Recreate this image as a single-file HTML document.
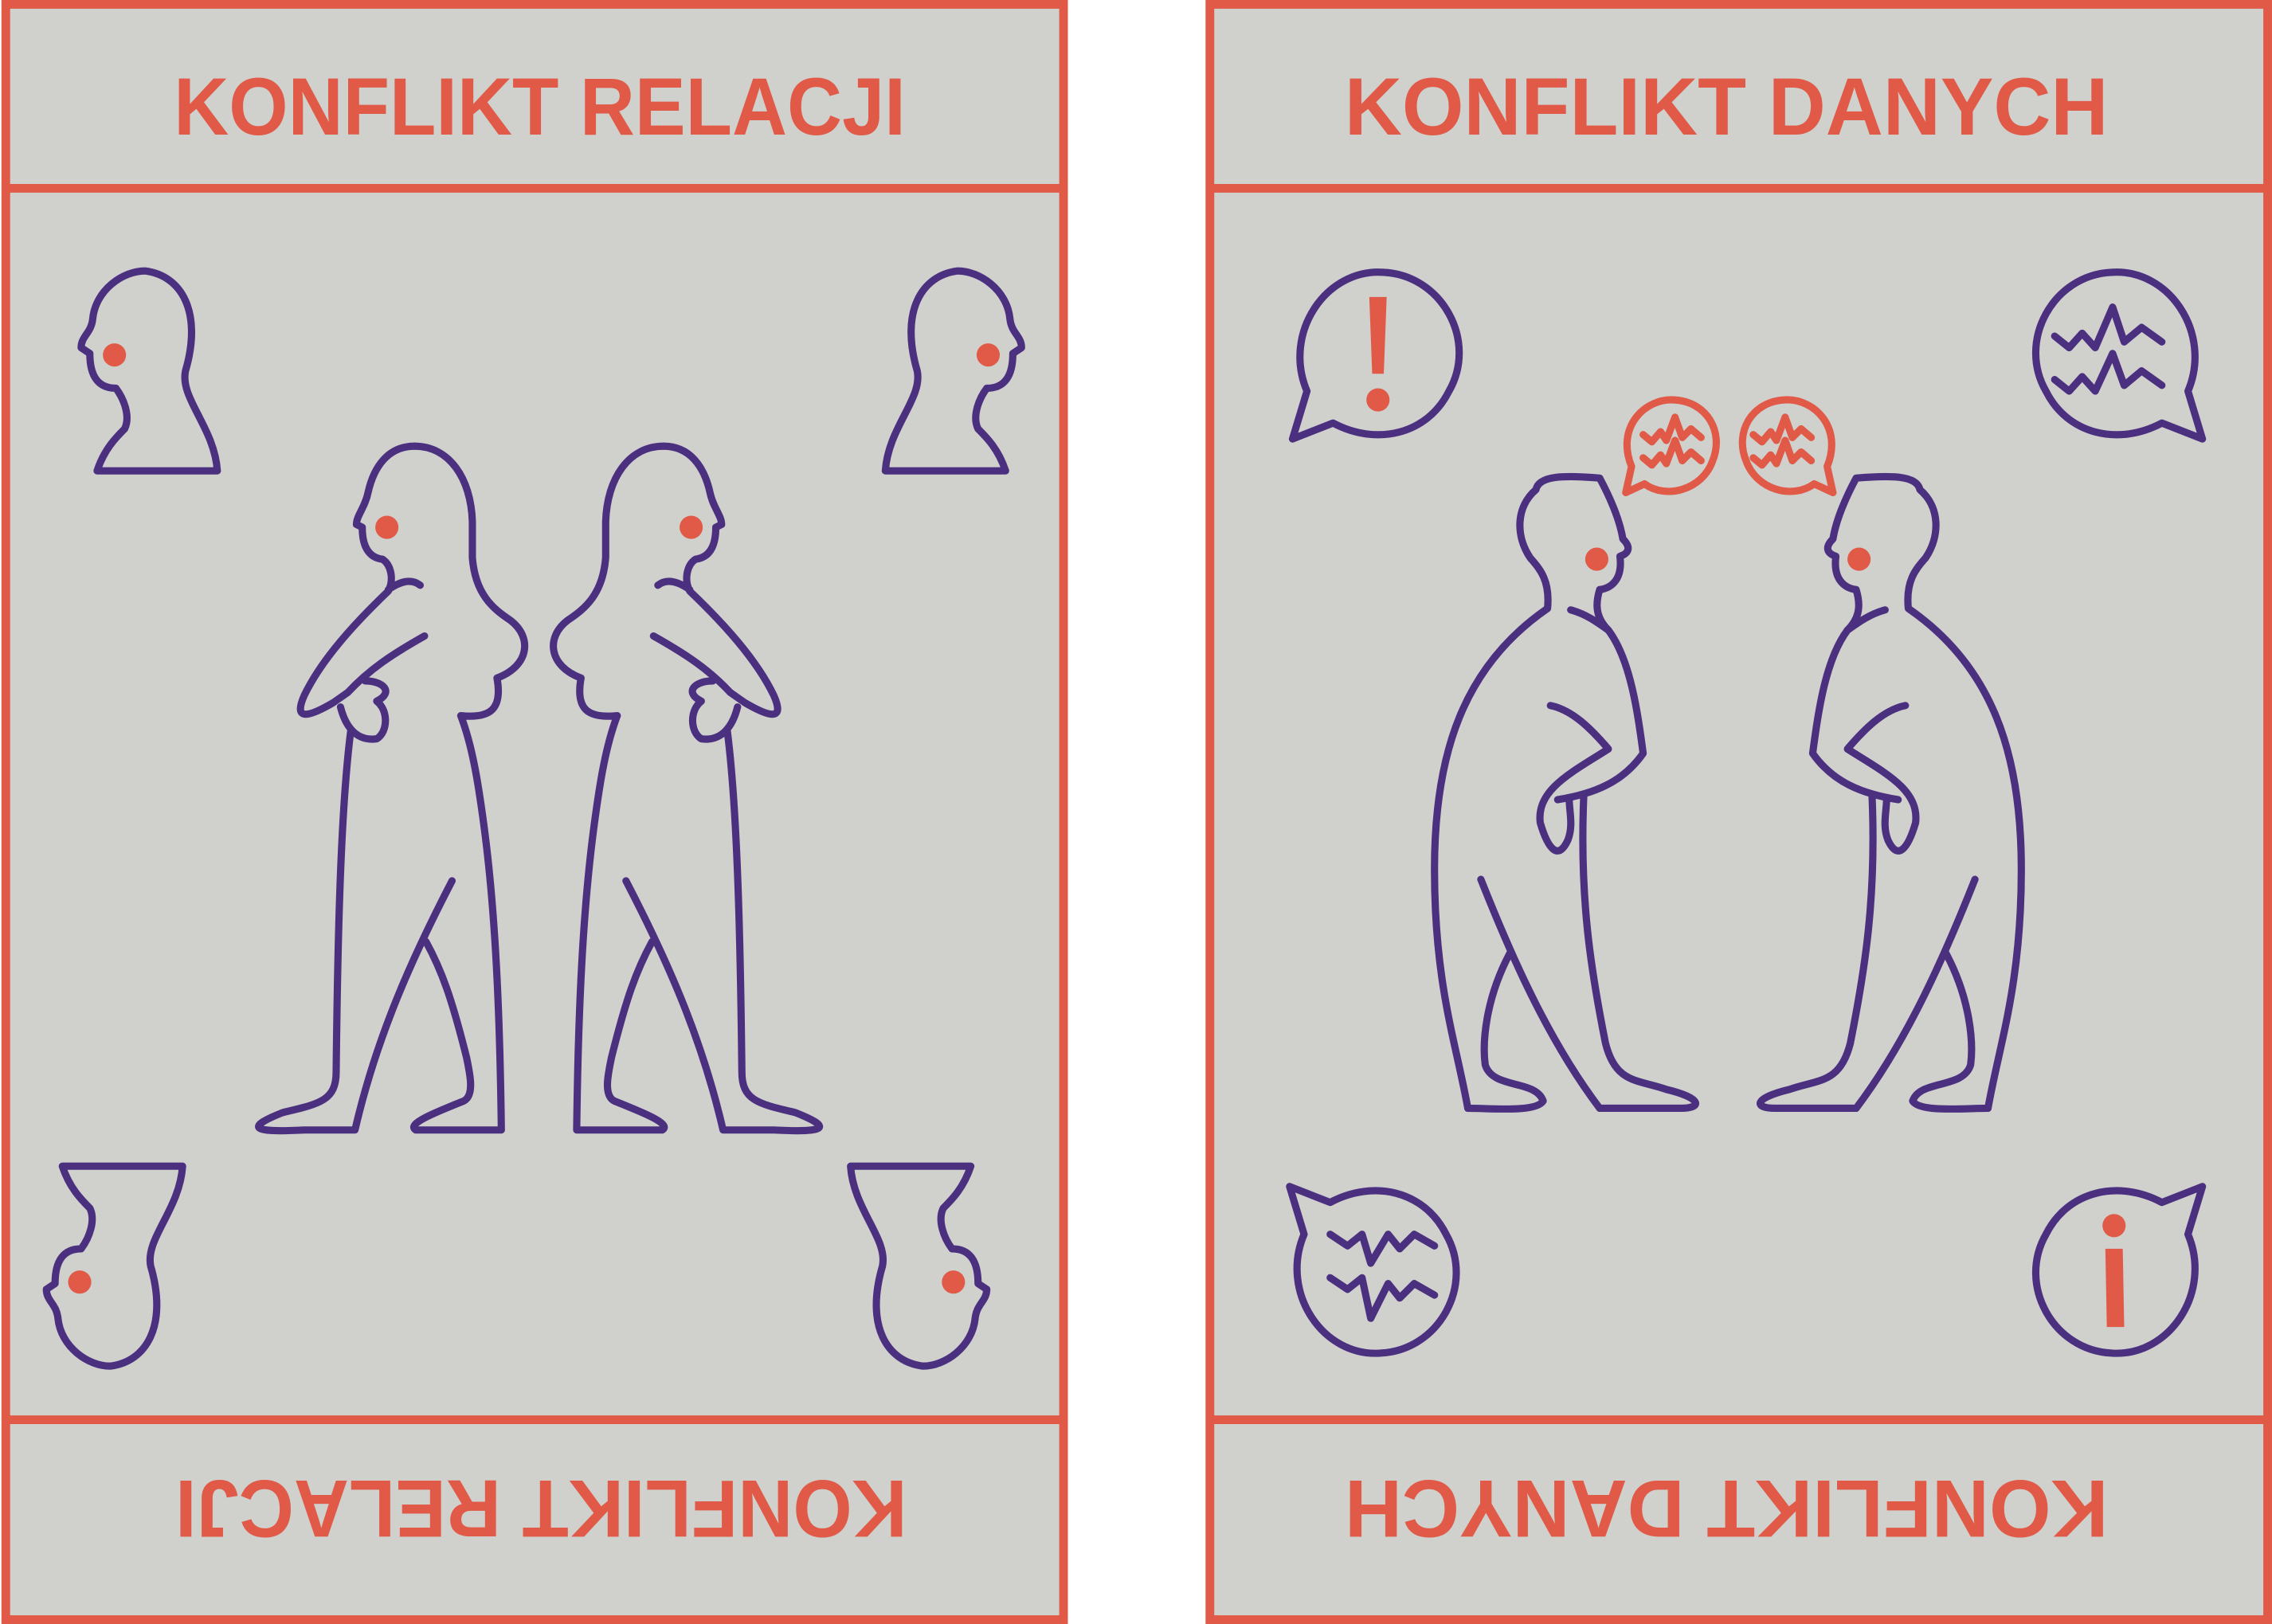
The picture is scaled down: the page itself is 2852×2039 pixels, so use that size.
<!DOCTYPE html>
<html><head><meta charset="utf-8">
<style>
html,body{margin:0;padding:0;background:#fff;}
svg{display:block;}
.t{font-family:"Liberation Sans",sans-serif;font-size:56px;font-weight:bold;fill:#e05a47;}
.p{fill:none;stroke:#4b3080;stroke-width:5;stroke-linecap:round;stroke-linejoin:round;}
.r{fill:none;stroke:#e05a47;stroke-width:5;stroke-linecap:round;stroke-linejoin:round;}
</style></head>
<body>
<svg width="2852" height="2039" viewBox="0 0 1568 1121">
<defs>
<g id="head">
<path class="p" d="M67 325 C72 310 80 302 86 296 C90 288 86 276 80 268 C68 268 62 260 62 244 L56 240 C56 232 63 230 64 220 C66 200 85 187 100 187 C125 190 140 215 128 256 C124 275 148 295 150 325 Z"/>
<circle cx="79" cy="245" r="8" fill="#e05a47"/>
</g>
<g id="fig1">
<path class="p" d="M286 308 C310 308 325 330 326 360 L326 385 C328 410 340 420 352 428 C368 440 365 460 343 468 C347 490 338 496 318 494 C326 515 330 540 334 570 C342 630 345 700 346 780 L287 780 C280 776 300 768 320 760 C328 756 324 740 322 730 C312 690 305 670 294 650"/>
<path class="p" d="M286 308 C268 308 258 322 254 340 C252 350 246 356 246 362 L250 364 C250 378 255 385 264 386 C270 390 272 400 268 408 C245 430 222 455 210 480 C202 498 213 495 230 485 L240 478"/>
<path class="p" d="M242 505 C235 560 233 650 232 740 C232 760 220 762 195 768 C170 778 172 782 210 780 L245 780 C260 715 285 660 312 608"/>
<path class="p" d="M293 439 C270 452 255 462 240 478"/>
<path class="p" d="M252 470 C265 470 272 478 260 484 C268 490 268 505 260 510 C245 512 238 500 235 488"/>
<path class="p" d="M268 407 C278 400 285 400 290 404"/>
<circle cx="267" cy="364" r="8" fill="#e05a47"/>
</g>
<g id="figA">
<path class="p" d="M1013 765 C1005 720 990 680 990 600 C990 520 1010 460 1068 420 C1070 400 1062 392 1056 385 C1046 370 1046 350 1060 338 C1062 328 1080 328 1104 330 C1112 345 1118 360 1120 372 C1126 378 1124 382 1118 384 C1120 400 1112 406 1104 407 C1100 420 1103 428 1110 435 C1125 455 1130 490 1134 520 C1120 540 1100 548 1075 552"/>
<path class="p" d="M1084 421 C1095 424 1103 430 1110 435"/>
<path class="p" d="M1093 550 C1090 620 1098 670 1108 720 C1115 748 1130 745 1150 752 C1175 758 1175 765 1160 765 L1104 765 C1070 720 1045 665 1022 607"/>
<path class="p" d="M1042 658 C1025 690 1023 720 1025 735 C1030 752 1060 745 1065 760 C1060 768 1030 765 1013 765"/>
<path class="p" d="M1070 487 C1085 490 1098 503 1110 517 C1085 533 1060 545 1063 568 C1068 585 1075 595 1082 580 C1086 570 1083 560 1083 552"/>
<circle cx="1102" cy="386" r="8" fill="#e05a47"/>
</g>
</defs>

<g>
<rect x="4" y="3" width="730" height="1115" fill="#d0d0cd" stroke="#e05a47" stroke-width="6"/>
<line x1="4" y1="130" x2="734" y2="130" stroke="#e05a47" stroke-width="6"/>
<line x1="4" y1="980" x2="734" y2="980" stroke="#e05a47" stroke-width="6"/>
<text class="t" x="120" y="93" textLength="505" lengthAdjust="spacingAndGlyphs">KONFLIKT RELACJI</text>
<text class="t" x="120" y="1064" textLength="505" lengthAdjust="spacingAndGlyphs" transform="rotate(180 373 1043)">KONFLIKT RELACJI</text>
<use href="#head"/>
<use href="#head" transform="translate(761 0) scale(-1 1)"/>
<use href="#head" transform="rotate(180 368.5 565) translate(761 0) scale(-1 1)"/>
<use href="#head" transform="rotate(180 368.5 565)"/>
<use href="#fig1"/>
<use href="#fig1" transform="translate(744 0) scale(-1 1)"/>
</g>

<g>
<rect x="835" y="3" width="730" height="1115" fill="#d0d0cd" stroke="#e05a47" stroke-width="6"/>
<line x1="835" y1="130" x2="1565" y2="130" stroke="#e05a47" stroke-width="6"/>
<line x1="835" y1="980" x2="1565" y2="980" stroke="#e05a47" stroke-width="6"/>
<text class="t" x="928" y="93" textLength="527" lengthAdjust="spacingAndGlyphs">KONFLIKT DANYCH</text>
<text class="t" x="928" y="1064" textLength="527" lengthAdjust="spacingAndGlyphs" transform="rotate(180 1191.5 1043)">KONFLIKT DANYCH</text>

<g>
<path class="p" d="M902 270 C885 230 915 185 955 188 C995 190 1020 235 1000 270 C985 300 950 308 920 292 L892 303 Z"/>
<path d="M945 205 L957 205 L955 258 L947 258 Z" fill="#e05a47"/>
<circle cx="951" cy="276" r="8" fill="#e05a47"/>
</g>
<g>
<path class="p" d="M1510 270 C1527 230 1497 185 1457 188 C1417 190 1392 235 1412 270 C1427 300 1462 308 1492 292 L1520 303 Z"/>
<path class="p" d="M1418 232 L1428 240 L1437 230 L1446 240 L1458 212 L1466 236 L1478 226 L1492 236"/>
<path class="p" d="M1418 262 L1428 270 L1437 260 L1446 270 L1458 244 L1466 266 L1478 256 L1492 266"/>
</g>
<g>
<path class="p" d="M900 852 C883 892 913 937 953 934 C993 932 1018 887 998 852 C983 822 948 814 918 830 L890 819 Z"/>
<path class="p" d="M918 852 L930 860 L940 852 L946 872 L958 852 L966 862 L976 852 L990 860"/>
<path class="p" d="M918 882 L930 890 L940 882 L946 910 L958 886 L966 896 L976 886 L990 894"/>
</g>
<g>
<path class="p" d="M1510 852 C1527 892 1497 937 1457 934 C1417 932 1392 887 1412 852 C1427 822 1462 814 1492 830 L1520 819 Z"/>
<circle cx="1459" cy="846" r="8" fill="#e05a47"/>
<path d="M1453 862 L1465 862 L1466 916 L1454 916 Z" fill="#e05a47"/>
</g>
<g>
<path class="r" d="M1126 322 C1115 295 1135 275 1155 276 C1178 277 1190 298 1182 318 C1175 338 1150 345 1135 334 L1122 340 Z"/>
<path class="r" d="M1134 300 L1140 305 L1146 298 L1150 304 L1156 288 L1161 302 L1167 296 L1174 302"/>
<path class="r" d="M1134 316 L1140 321 L1146 314 L1150 320 L1156 304 L1161 318 L1167 312 L1174 318"/>
</g>
<g>
<path class="r" d="M1261 322 C1272 295 1252 275 1232 276 C1209 277 1197 298 1205 318 C1212 338 1237 345 1252 334 L1265 340 Z"/>
<path class="r" d="M1210 300 L1216 305 L1222 298 L1226 304 L1232 288 L1237 302 L1243 296 L1250 302"/>
<path class="r" d="M1210 316 L1216 321 L1222 314 L1226 320 L1232 304 L1237 318 L1243 312 L1250 318"/>
</g>
<use href="#figA"/>
<use href="#figA" transform="translate(2385 0) scale(-1 1)"/>
</g>
</svg>
</body></html>
